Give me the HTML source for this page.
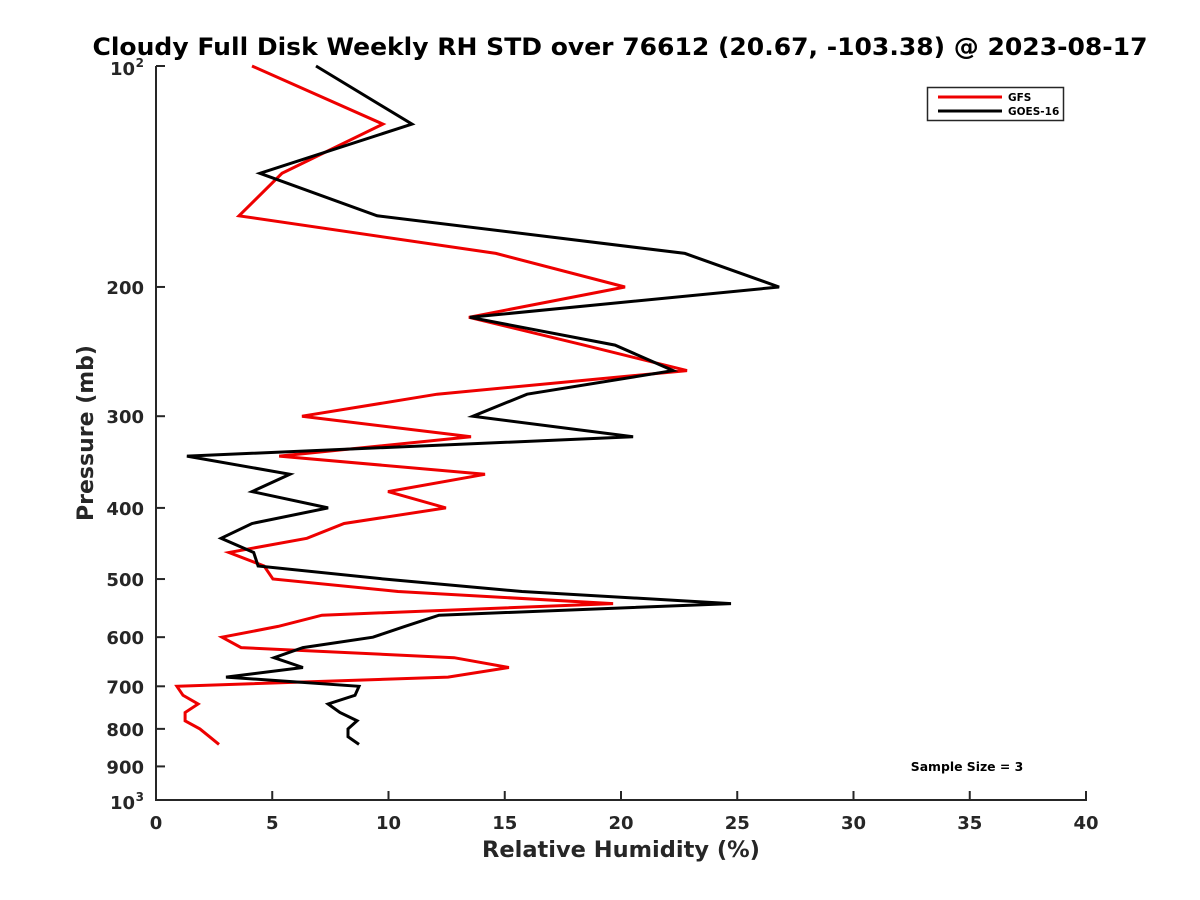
<!DOCTYPE html>
<html><head><meta charset="utf-8"><style>
body{margin:0;background:#fff;}
svg{display:block;font-family:"DejaVu Sans","Liberation Sans",sans-serif;}
</style></head><body>
<svg id="chart" width="1200" height="900">
<text x="620" y="55" text-anchor="middle" font-size="24" font-weight="bold" textLength="1055" lengthAdjust="spacingAndGlyphs">Cloudy Full Disk Weekly RH STD over 76612 (20.67, -103.38) @ 2023-08-17</text>
<g id="axes"></g>
<g id="series"></g>
<text x="621" y="857" text-anchor="middle" font-size="22.5" font-weight="bold" fill="#262626">Relative Humidity (%)</text>
<text transform="translate(93,433) rotate(-90)" text-anchor="middle" font-size="22" font-weight="bold" fill="#262626">Pressure (mb)</text>
<g>
<rect x="927.5" y="87.5" width="136" height="33" fill="#fff" stroke="#262626" stroke-width="1.5"/>
<line x1="938" y1="97" x2="1002" y2="97" stroke="#e00" stroke-width="3"/>
<text x="1008" y="101" font-size="10.5" font-weight="bold">GFS</text>
<line x1="938" y1="111" x2="1002" y2="111" stroke="#000" stroke-width="3"/>
<text x="1008" y="115" font-size="10.5" font-weight="bold">GOES-16</text>
</g>
<text x="967" y="771" text-anchor="middle" font-size="12.4" font-weight="bold">Sample Size = 3</text>
</svg>
<script>
const pressures = [100,120,140,160,180,200,220,240,260,280,300,320,340,360,380,400,420,440,460,480,500,520,540,560,580,600,620,640,660,680,700,720,740,760,780,800,820,840];
const goesValues = [6.88,11.01,4.47,9.51,22.75,26.8,13.5,19.74,22.24,15.96,13.63,20.52,1.33,5.76,4.13,7.4,4.13,2.8,4.2,4.39,9.8,15.74,24.73,12.17,10.7,9.33,6.32,5.08,6.32,3.01,8.73,8.56,7.4,7.91,8.65,8.26,8.26,8.73];
const gfsValues = [4.13,9.76,5.42,3.57,14.62,20.17,13.46,18.4,22.84,12.09,6.28,13.55,5.3,14.15,9.98,12.47,8.09,6.49,3.14,4.65,5.03,10.41,19.66,7.14,5.25,2.84,3.66,12.82,15.18,12.56,0.9,1.16,1.81,1.25,1.25,1.89,2.3,2.71];
const xTicks = [0,5,10,15,20,25,30,35,40];
const yTicks = [200,300,400,500,600,700,800,900];

const NS="http://www.w3.org/2000/svg";
const L=156,R=1086,T=66,B=800;
const xs=v=>L+(v-0)/(40-0)*(R-L);
const ys=p=>T+(Math.log10(p)-2)*(B-T);
function mk(tag,attrs,parent){const e=document.createElementNS(NS,tag);for(const k in attrs)e.setAttribute(k,attrs[k]);parent.appendChild(e);return e;}
const ax=document.getElementById('axes');
const c="#262626";
let el=mk('line',{x1:L,y1:T,x2:L,y2:B+1,stroke:c,'stroke-width':2},ax);


el=mk('line',{x1:L-1,y1:B,x2:R+1,y2:B,stroke:c,'stroke-width':2},ax);


xTicks.forEach(v=>{
  const x=xs(v);
  let t=mk('line',{x1:x,y1:B,x2:x,y2:B-9,stroke:c,'stroke-width':2},ax);
  
  
  let tx=mk('text',{x:x,y:B+29,'text-anchor':'middle','font-size':18,'font-weight':'bold',fill:c},ax);
  tx.textContent=v;
  
  
});
[100].concat(yTicks,[1000]).forEach(p=>{
  const y=ys(p);
  let t=mk('line',{x1:L,y1:y,x2:L+9,y2:y,stroke:c,'stroke-width':2},ax);
  
  
});
yTicks.forEach(p=>{
  const y=ys(p);
  let tx=mk('text',{x:L-12,y:y+7,'text-anchor':'end','font-size':18,'font-weight':'bold',fill:c},ax);
  tx.textContent=p;
  
  
});
[[100,'2'],[1000,'3']].forEach(([p,e])=>{
  const y=ys(p);
  let tx=mk('text',{x:L-21,y:y+9,'text-anchor':'end','font-size':18,'font-weight':'bold',fill:c},ax);
  tx.textContent='10';
  
  
  let sup=mk('text',{x:L-12,y:y+1,'text-anchor':'end','font-size':12,'font-weight':'bold',fill:c},ax);
  sup.textContent=e;
  
  
});
const sg=document.getElementById('series');
function line(vals,color,name){
  const pts=vals.map((v,i)=>xs(v).toFixed(1)+','+ys(pressures[i]).toFixed(1)).join(' ');
  const pl=mk('polyline',{points:pts,fill:'none',stroke:color,'stroke-width':3,'stroke-linejoin':'miter'},sg);
  
  
}
line(gfsValues,'#e00','gfs-line');
line(goesValues,'#000','goes16-line');
</script>
</body></html>
